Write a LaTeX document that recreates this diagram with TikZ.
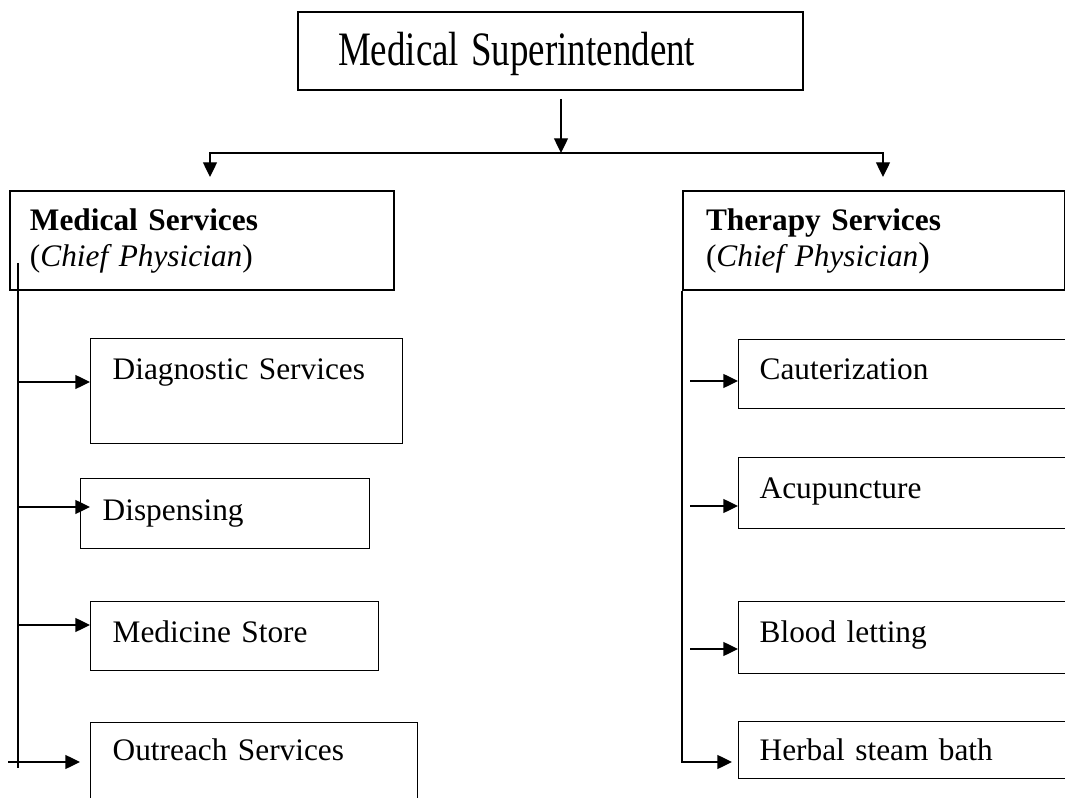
\documentclass[tikz,border=0pt]{standalone}
\usepackage{fontspec}
\setmainfont{Liberation Serif}
\usetikzlibrary{arrows.meta}
\usetikzlibrary{calc,positioning}

\begin{document}
\begin{tikzpicture}[x=0.75pt,y=-0.75pt,
    orgbox/.style n args={4}{draw,line width=1pt,anchor=north west,align=left,
      inner ysep=0pt,inner xsep=#2,text width=#1,text height=#3,text depth=#4,
      font=\fontsize{23.5}{27}\selectfont},
    arr/.style={-{Triangle[length=11pt,width=10.5pt]},line width=1pt}]
  \useasboundingbox (0,0) rectangle (1065,798);

  % head of the hospital
  \node[orgbox={318.75pt}{30pt}{40.5pt}{18pt},line width=1.5pt,font=\fontsize{36}{40}\selectfont]
    (sup) at (297,11) {\scalebox{0.77}[1]{Medical Superintendent}};

  % the two services
  \node[orgbox={258pt}{15pt}{30pt}{44.25pt},line width=1.5pt]
    (medsvc) at (9,190) {\textbf{Medical Services}\\(\textit{Chief Physician})};
  \node[orgbox={252pt}{17.25pt}{30pt}{44.25pt},line width=1.5pt]
    (ther) at (682,190) {\textbf{Therapy Services}\\(\textit{Chief Physician}{\fontsize{26}{27}\selectfont)}};

  % units under medical services
  \node[orgbox={201pt}{16.5pt}{30.75pt}{48pt}] (diag) at (90,338) {Diagnostic Services};
  \node[orgbox={183.75pt}{16.5pt}{31.5pt}{21pt}] (disp) at (80,478) {Dispensing};
  \node[orgbox={183pt}{16.5pt}{30.75pt}{21pt}] (store) at (90,601) {Medicine Store};
  \node[orgbox={212.25pt}{16.5pt}{28.5pt}{37.5pt}] (outr) at (90,722) {Outreach Services};

  % units under therapy services
  \node[orgbox={228.75pt}{15.75pt}{30pt}{21.75pt}] (caut) at (738,339) {Cauterization};
  \node[orgbox={228.75pt}{15.75pt}{30.75pt}{22.5pt}] (acup) at (738,457) {Acupuncture};
  \node[orgbox={228.75pt}{15.75pt}{30.75pt}{23.25pt}] (blood) at (738,601) {Blood letting};
  \node[orgbox={228.75pt}{15.75pt}{29.25pt}{13.5pt}] (herb) at (738,721) {Herbal steam bath};

  \coordinate (split) at (561,153);
  \coordinate (lefttip) at (210,177);
  \coordinate (righttip) at (883,177);
  \coordinate (ltop) at (18,263);
  \coordinate (lbot) at (18,768);

  \draw[arr] ([yshift=-6pt]sup.south -| split) -- (split);
  \draw[arr] (split) -| (lefttip);
  \draw[arr] (split) -| (righttip);

  % left branch
  \draw[line width=1pt] (ltop) -- (lbot);
  \draw[arr] (ltop |- 0,382) -- (diag.west |- 0,382);
  \draw[arr] (ltop |- 0,507) -- ([xshift=7.5pt]disp.west |- 0,507);
  \draw[arr] (ltop |- 0,625) -- (store.west |- 0,625);
  \draw[arr] ([xshift=-7.5pt]ltop |- 0,762) -- ([xshift=-7.5pt]outr.west |- 0,762);

  % right branch
  \draw[arr] (ther.south west) |- ([xshift=-4.5pt]herb.west |- 0,762);
  \draw[arr] ([xshift=6pt]ther.south west |- 0,381) -- (caut.west |- 0,381);
  \draw[arr] ([xshift=6pt]ther.south west |- 0,506) -- (acup.west |- 0,506);
  \draw[arr] ([xshift=6pt]ther.south west |- 0,649) -- (blood.west |- 0,649);
\end{tikzpicture}
\end{document}
